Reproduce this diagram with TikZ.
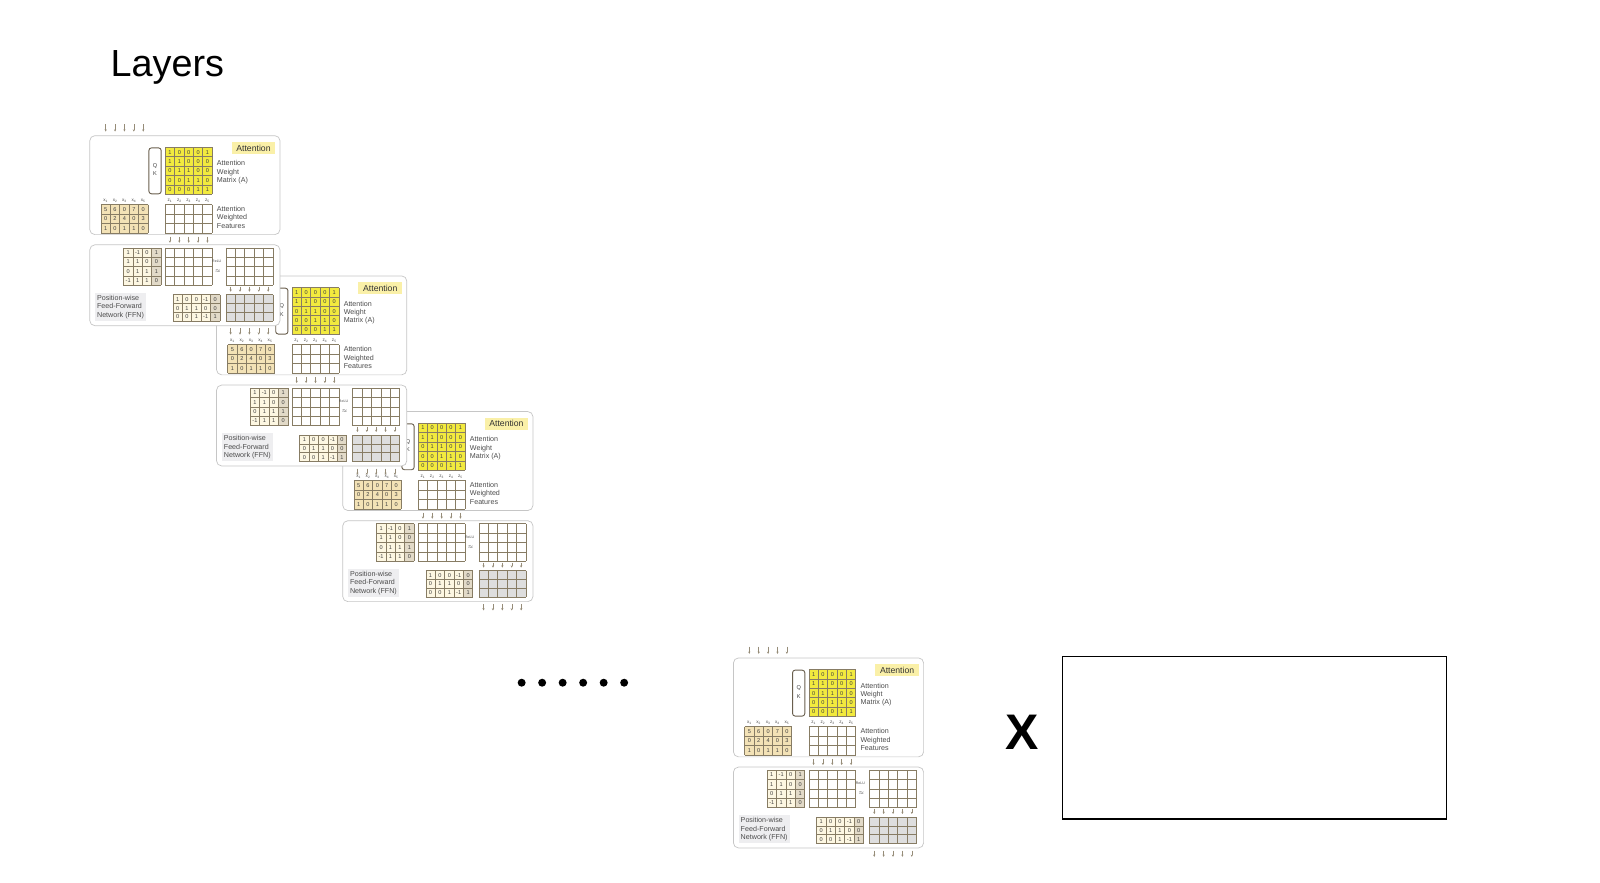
\documentclass[tikz,border=0pt]{standalone}
\usepackage{fontspec}
\setmainfont{Liberation Sans}
\usetikzlibrary{arrows.meta}

\definecolor{gridc}{RGB}{135,124,100}
\definecolor{yellowc}{RGB}{242,234,62}
\definecolor{tanc}{RGB}{243,226,182}
\definecolor{creamc}{RGB}{253,247,226}
\definecolor{shadec}{RGB}{226,218,200}
\definecolor{grayc}{RGB}{222,222,222}
\definecolor{attbg}{RGB}{250,240,168}
\definecolor{ffnbg}{RGB}{238,238,240}
\definecolor{tickc}{RGB}{150,140,120}
\definecolor{qkc}{RGB}{105,95,78}

% grid lines of a matrix: x, y, cols, rows, cell width, cell height
\newcommand\cellgrid[6]{%
  \foreach \k in {0,...,#3} \draw[gridline] ({#1+\k*#5},#2) -- ++(0,{#4*#6});
  \foreach \k in {0,...,#4} \draw[gridline] (#1,{#2+\k*#6}) -- ++({#3*#5},0);
}
% values of a matrix: name, x, y, cell width, cell height, rows
\newcommand\cellvals[6]{%
  \foreach \row [count=\r] in {#6} {
    \foreach \v [count=\c] in \row
      \node[cellv] (#1-\r-\c) at ({#2+(\c-0.5)*#4},{#3+(\r-0.5)*#5}) {\v};
  }
}
% one encoder layer, drawn at the first layer's place
\newcommand\layerblock[1]{%
  % attention box
  \draw[boxline] (88,133) rectangle (274.5,230);
  \foreach \i in {0,...,4} \draw[flowtick] ({103.6+9.2*\i},122) -- ++(0,7);
  \node[attlabel] (#1-att) at (248.5,145) {Attention};
  \draw[qkbox] (146,145) rectangle (158,190);
  \node[cellv] (#1-q) at (152,162.5) {Q};
  \node[cellv] (#1-k) at (152,170.5) {K};
  \fill[yellowc] (162,144.5) rectangle ++(46,46);
  \cellgrid{162}{144.5}{5}{5}{9.2}{9.2}
  \cellvals{#1-a}{162}{144.5}{9.2}{9.2}{{1,0,0,0,1},{1,1,0,0,0},{0,1,1,0,0},{0,0,1,1,0},{0,0,0,1,1}}
  \node[notetext] (#1-anote) at (212.5,169) {Attention\\Weight\\Matrix (A)};
  % inputs and weighted features
  \foreach \i in {1,...,5} {
    \node[sublabel] (#1-x\i) at ({103.6+9.2*(\i-1)},196.5) {x\textsubscript{\i}};
    \node[sublabel] (#1-z\i) at ({166.6+9.2*(\i-1)},196.5) {z\textsubscript{\i}};
  }
  \fill[tanc] (99,200.5) rectangle ++(46,27.9);
  \cellgrid{99}{200.5}{5}{3}{9.2}{9.3}
  \cellvals{#1-x}{99}{200.5}{9.2}{9.3}{{5,6,0,7,0},{0,2,4,0,3},{1,0,1,1,0}}
  \fill[white] (162,200.5) rectangle ++(46,27.9);
  \cellgrid{162}{200.5}{5}{3}{9.2}{9.3}
  \node[notetext] (#1-znote) at (212.5,213) {Attention\\Weighted\\Features};
  \foreach \i in {0,...,4} \draw[flowtick] ({166.6+9.2*\i},232) -- ++(0,6);
  % feed-forward box
  \draw[boxline] (88,240) rectangle (274.5,319.3);
  \fill[creamc] (121,243) rectangle ++(37,36.8);
  \fill[shadec] (148.75,243) rectangle ++(9.25,36.8);
  \cellgrid{121}{243}{4}{4}{9.25}{9.2}
  \cellvals{#1-w}{121}{243}{9.25}{9.2}{{1,-1,0,1},{1,1,0,0},{0,1,1,1},{-1,1,1,0}}
  \cellgrid{162}{243}{5}{4}{9.2}{9.2}
  \node[relutext] (#1-relu) at (212.5,256) {ReLU};
  \node[cellv] (#1-eq) at (213.5,266) {$\approx$};
  \cellgrid{221.5}{243}{5}{4}{9.2}{9.2}
  \foreach \i in {0,...,4} \draw[flowtick] ({226.1+9.2*\i},281) -- ++(0,5);
  \node[notetext, fill=ffnbg, inner sep=2pt] (#1-ffn) at (93,301) {Position-wise\\Feed-Forward\\Network (FFN)};
  \fill[creamc] (169.5,289) rectangle ++(46,26.1);
  \fill[shadec] (206.3,289) rectangle ++(9.2,26.1);
  \cellgrid{169.5}{289}{5}{3}{9.2}{8.7}
  \cellvals{#1-v}{169.5}{289}{9.2}{8.7}{{1,0,0,-1,0},{0,1,1,0,0},{0,0,1,-1,1}}
  \fill[grayc] (221.5,289) rectangle ++(46,26.1);
  \cellgrid{221.5}{289}{5}{3}{9.2}{8.7}
  \foreach \i in {0,...,4} \draw[flowtick] ({226.1+9.2*\i},322) -- ++(0,6);
}

\begin{document}
\begin{tikzpicture}[x=1pt, y=-1pt,
  boxline/.style={draw=gray!45, line width=0.7pt, rounded corners=5pt, fill=white},
  gridline/.style={draw=gridc, line width=0.6pt},
  qkbox/.style={draw=qkc, line width=0.9pt, rounded corners=2.5pt, fill=white},
  flowtick/.style={draw=tickc, line width=0.45pt, -{Stealth[length=2.2pt,width=2.2pt]}},
  cellv/.style={font=\fontsize{5.5}{6}\selectfont, text=black!75, inner sep=0pt},
  sublabel/.style={font=\fontsize{4.5}{5}\selectfont, text=black!70, inner sep=0pt},
  relutext/.style={font=\fontsize{3.5}{4}\selectfont, text=black!70, inner sep=0pt},
  notetext/.style={font=\fontsize{7}{8.3}\selectfont, text=black!70, align=left, anchor=west, inner sep=0pt},
  attlabel/.style={fill=attbg, font=\fontsize{8.5}{9}\selectfont, text=black!80, minimum width=43pt, minimum height=12pt, inner sep=0pt}]
  \useasboundingbox (0,0) rectangle (1568.6,864.7);

  \node[anchor=base west, font=\fontsize{37}{40}\selectfont] (title) at (105,75) {Layers};

  % stacked layers, the later ones underneath
  \begin{scope}[shift={(248,270.5)}] \layerblock{b3} \end{scope}
  \begin{scope}[shift={(124.3,137.5)}] \layerblock{b2} \end{scope}
  \layerblock{b1}

  % dots and the last layer
  \foreach \i in {0,...,5} \fill ({511.4+20.1*\i},669.3) circle (3.9pt);
  \begin{scope}[shift={(631,512)}] \layerblock{b4} \end{scope}

  \node[font=\fontsize{49}{50}\selectfont\bfseries, inner sep=0pt] (times) at (1002,718) {X};
  \draw[line width=1.2pt] (1042,643.8) rectangle (1418,803);
\end{tikzpicture}
\end{document}
